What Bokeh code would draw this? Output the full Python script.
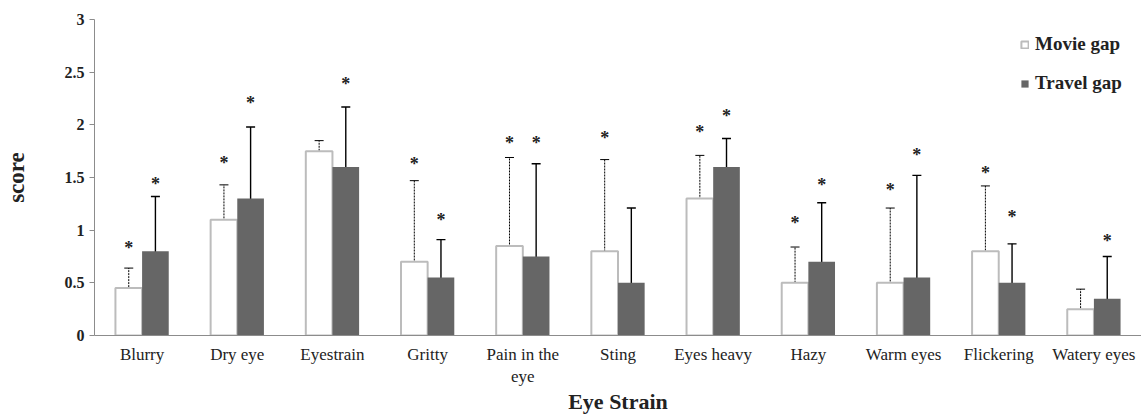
from bokeh.plotting import figure
from bokeh.models import (ColumnDataSource, FactorRange, Whisker, TeeHead, Legend, LegendItem,
                          FixedTicker, CustomJSTickFormatter)
from bokeh.transform import dodge
from bokeh.core.properties import value
from bokeh.embed import file_html
from bokeh.resources import INLINE
import numpy as np

categories = ["Blurry", "Dry eye", "Eyestrain", "Gritty", "Pain in the\neye", "Sting",
              "Eyes heavy", "Hazy", "Warm eyes", "Flickering", "Watery eyes"]
movie = [0.45, 1.10, 1.75, 0.70, 0.85, 0.80, 1.30, 0.50, 0.50, 0.80, 0.25]
movie_upper = [0.64, 1.43, 1.85, 1.47, 1.69, 1.67, 1.71, 0.84, 1.21, 1.42, 0.44]
movie_lower = [0.26, 0.77, 1.64, 0.00, 0.01, 0.00, 0.89, 0.16, 0.00, 0.18, 0.06]
travel = [0.80, 1.30, 1.60, 0.55, 0.75, 0.50, 1.60, 0.70, 0.55, 0.50, 0.35]
travel_upper = [1.32, 1.98, 2.17, 0.91, 1.63, 1.21, 1.87, 1.26, 1.52, 0.87, 0.75]
travel_lower = [0.27, 0.62, 1.03, 0.18, 0.00, 0.00, 1.33, 0.13, 0.00, 0.12, 0.00]
movie_star = [0.85, 1.66, None, 1.65, 1.85, 1.89, 1.95, 1.09, 1.40, 1.56, None]
travel_star = [1.46, 2.23, 2.41, 1.12, 1.85, None, 2.10, 1.45, 1.73, 1.14, 0.92]
y_ticks = [0, 0.5, 1, 1.5, 2, 2.5, 3]

FONT = "Liberation Serif"

def nz(a):
    return [np.nan if v is None else v for v in a]

src = ColumnDataSource(dict(
    cat=categories, movie=movie, mu=movie_upper, ml=movie_lower,
    travel=travel, tu=travel_upper, tl=travel_lower,
    ms=nz(movie_star), ts=nz(travel_star),
    ms_t=["*" if v is not None else "" for v in movie_star],
    ts_t=["*" if v is not None else "" for v in travel_star],
))

p = figure(x_range=FactorRange(*categories), y_range=(0, 3), width=1141, height=418,
           output_backend="svg", toolbar_location=None,
           min_border_left=93, min_border_right=0, min_border_top=19, min_border_bottom=83)
p.x_range.range_padding = 0
p.outline_line_color = None
p.xgrid.grid_line_color = None
p.ygrid.grid_line_color = None
p.background_fill_color = "white"
p.border_fill_color = "white"

OFF = 0.14
W = 0.28
mb = p.vbar(x=dodge("cat", -OFF, range=p.x_range), top="movie", width=W, source=src,
            fill_color="white", line_color="#bcbcbc", line_width=2)
tb = p.vbar(x=dodge("cat", OFF, range=p.x_range), top="travel", width=W, source=src,
            fill_color="#666666", line_color=None)

wm = Whisker(base=dodge("cat", -OFF, range=p.x_range), upper="mu", lower="ml", source=src,
             line_color="black", line_width=1, line_dash="2 1",
             upper_head=TeeHead(size=9, line_color="black", line_width=1),
             lower_head=TeeHead(size=9, line_color="black", line_width=1))
wt = Whisker(base=dodge("cat", OFF, range=p.x_range), upper="tu", lower="tl", source=src,
             line_color="black", line_width=1.4,
             upper_head=TeeHead(size=9, line_color="black", line_width=1.4),
             lower_head=TeeHead(size=9, line_color="black", line_width=1.4))
p.add_layout(wm)
p.add_layout(wt)

for col, txt, off in (("ms", "ms_t", -OFF), ("ts", "ts_t", OFF)):
    p.text(x=dodge("cat", off, range=p.x_range), y=col, text=txt, source=src,
           text_font=value(FONT), text_font_style="bold", text_font_size="18px",
           text_align="center", text_baseline="middle", y_offset=2, text_color="#222222")

# axes
p.yaxis.ticker = FixedTicker(ticks=y_ticks)
p.yaxis.formatter = CustomJSTickFormatter(code="return tick.toString();")
p.yaxis.minor_tick_line_color = None
p.yaxis.major_tick_out = 5
p.yaxis.major_tick_in = 0
p.yaxis.axis_line_color = "#8c8c8c"
p.yaxis.major_tick_line_color = "#8c8c8c"
p.yaxis.major_label_text_font = FONT
p.yaxis.major_label_text_font_style = "bold"
p.yaxis.major_label_text_font_size = "16px"
p.yaxis.major_label_text_color = "#222222"
p.yaxis.axis_label = "score"
p.yaxis.axis_label_text_font = FONT
p.yaxis.axis_label_text_font_style = "bold"
p.yaxis.axis_label_text_font_size = "23px"
p.yaxis.axis_label_text_color = "#222222"
p.yaxis.axis_label_standoff = 33

p.xaxis.axis_line_color = "#8c8c8c"
p.xaxis.major_tick_line_color = None
p.xaxis.minor_tick_line_color = None
p.xaxis.major_tick_out = 0
p.xaxis.major_tick_in = 0
p.xaxis.major_label_text_font = FONT
p.xaxis.major_label_text_font_size = "17px"
p.xaxis.major_label_text_color = "#222222"
p.xaxis.major_label_standoff = 9
p.xaxis.axis_label = "Eye Strain"
p.xaxis.axis_label_text_font = FONT
p.xaxis.axis_label_text_font_style = "bold"
p.xaxis.axis_label_text_font_size = "22px"
p.xaxis.axis_label_text_color = "#222222"
p.xaxis.axis_label_standoff = 0

legend = Legend(items=[LegendItem(label="Movie gap", renderers=[mb]),
                       LegendItem(label="Travel gap", renderers=[tb])],
                location=(926, 241), orientation="vertical",
                label_text_font=FONT, label_text_font_style="bold", label_text_font_size="19px",
                label_text_color="#222222",
                glyph_width=9, glyph_height=9, label_height=20, spacing=17,
                padding=0, margin=0, border_line_color=None, background_fill_alpha=0,
                label_standoff=6)
p.add_layout(legend)

open("out.html", "w").write(file_html(p, INLINE))
